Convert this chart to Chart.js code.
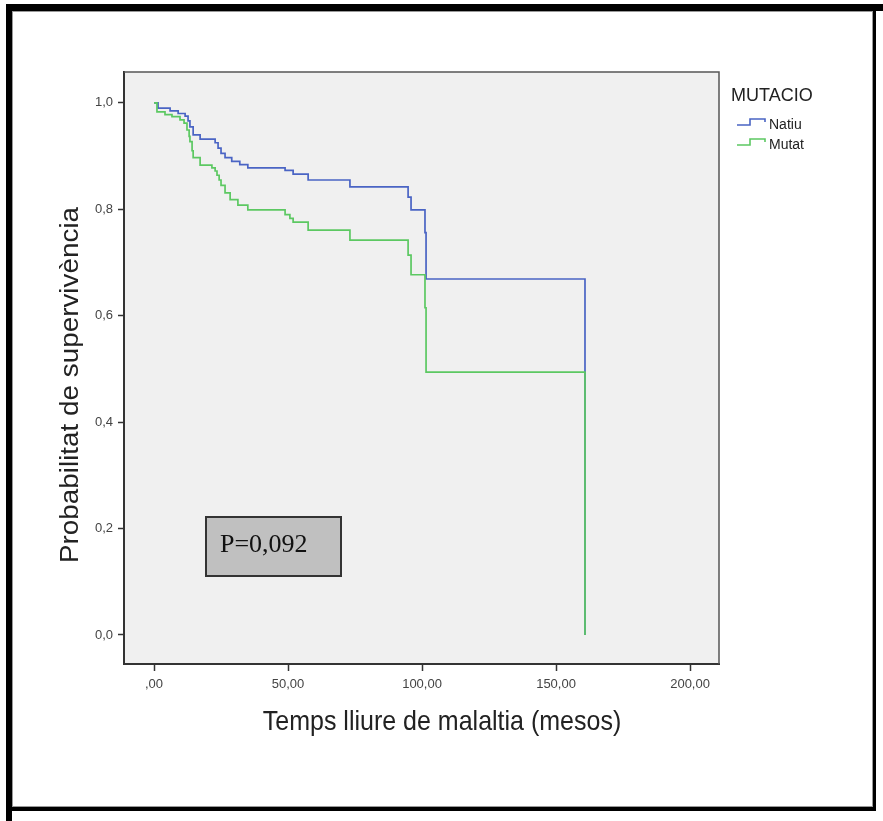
<!DOCTYPE html>
<html>
<head>
<meta charset="utf-8">
<title>Supervivencia lliure de malaltia</title>
<script src="https://cdn.jsdelivr.net/npm/chart.js@4/dist/chart.umd.min.js"></script>
<style>
  html, body { margin: 0; padding: 0; background: #fff; }
  #wrap { width: 883px; height: 821px; }
</style>
</head>
<body>
<div id="wrap"><canvas id="km" width="883" height="821"></canvas></div>
<script>
// Kaplan-Meier: temps (mesos) i probabilitat acumulada de supervivencia
var natiuTemps = [0, 1.5, 6, 9, 11.6, 12.7, 13.4, 14.6, 17.2, 22.8, 23.9, 25, 26.5, 29, 32, 35, 48.9, 51.9, 57.5, 73.1, 94.8, 95.9, 101.1, 101.5, 160.8];
var natiuSurv  = [1.0, 0.99, 0.985, 0.98, 0.975, 0.966, 0.955, 0.94, 0.932, 0.925, 0.915, 0.905, 0.897, 0.89, 0.884, 0.878, 0.873, 0.866, 0.855, 0.842, 0.823, 0.799, 0.756, 0.669, 0.0];

var mutatTemps = [0, 1.1, 4.1, 6.7, 9.7, 11.2, 12.3, 13.1, 13.4, 14.2, 14.6, 17.2, 21.6, 22.8, 23.5, 24.3, 25, 26.5, 28.4, 31.3, 35, 48.9, 50.7, 51.9, 57.5, 73.1, 94.8, 95.9, 101.1, 101.5, 160.8];
var mutatSurv  = [1.0, 0.983, 0.978, 0.974, 0.968, 0.962, 0.949, 0.937, 0.927, 0.91, 0.897, 0.883, 0.878, 0.872, 0.864, 0.855, 0.845, 0.831, 0.818, 0.808, 0.799, 0.79, 0.783, 0.776, 0.761, 0.742, 0.714, 0.677, 0.615, 0.494, 0.0];

var xTicks = [0, 50, 100, 150, 200];
var yTicks = [0, 0.2, 0.4, 0.6, 0.8, 1.0];

var grups = ['Natiu', 'Mutat'];
var colors = ['#4a64c4', '#5cc862'];
var pValue = 'P=0,092';

function toPoints(t, s) {
  return t.map(function (v, i) { return { x: v, y: s[i] }; });
}
function coma(v, d) {
  var s = v.toFixed(d).replace('.', ',');
  if (s.indexOf('0,') === 0) s = s.substring(1);
  return s;
}

// fons, marc i textos
var decor = {
  id: 'decor',
  beforeDraw: function (chart) {
    var c = chart.ctx, a = chart.chartArea;
    c.save();
    c.fillStyle = '#fff';
    c.fillRect(0, 0, chart.width, chart.height);
    c.fillStyle = '#f0f0f0';
    c.fillRect(a.left, a.top, a.right - a.left, a.bottom - a.top);
    c.restore();
  },
  afterDraw: function (chart) {
    var c = chart.ctx, a = chart.chartArea;
    c.save();
    // top + right edges of plot box
    c.strokeStyle = '#555';
    c.lineWidth = 1.5;
    c.beginPath();
    c.moveTo(a.left, a.top); c.lineTo(a.right, a.top); c.lineTo(a.right, a.bottom);
    c.stroke();

    // titols dels eixos (the original is a bit stretched vertically)
    c.fillStyle = '#222';
    c.font = '25px "Liberation Sans", Arial, sans-serif';
    c.textAlign = 'center';
    c.textBaseline = 'middle';
    c.save();
    c.translate(442, 722);
    c.scale(1, 1.12);
    c.fillText('Temps lliure de malaltia (mesos)', 0, 0, 368);
    c.restore();
    c.save();
    c.translate(71, 385);
    c.rotate(-Math.PI / 2);
    c.scale(1.12, 1);
    c.fillText('Probabilitat de supervivència', 0, 0, 318);
    c.restore();

    // llegenda
    c.textAlign = 'left';
    c.font = '18px "Liberation Sans", Arial, sans-serif';
    c.fillText('MUTACIO', 731, 96);
    c.font = '14px "Liberation Sans", Arial, sans-serif';
    var ly = [125, 145];
    for (var i = 0; i < grups.length; i++) {
      var y = ly[i];
      c.strokeStyle = colors[i];
      c.lineWidth = 1.6;
      c.beginPath();
      c.moveTo(737, y); c.lineTo(750, y); c.lineTo(750, y - 6);
      c.lineTo(765, y - 6); c.lineTo(765, y - 3);
      c.stroke();
      c.fillStyle = '#222';
      c.fillText(grups[i], 769, y);
    }

    // caixa del valor p
    c.fillStyle = '#c0c0c0';
    c.fillRect(206, 517, 135, 59);
    c.strokeStyle = '#333';
    c.lineWidth = 2;
    c.strokeRect(206, 517, 135, 59);
    c.fillStyle = '#111';
    c.font = '26px "Liberation Serif", "Times New Roman", serif';
    c.fillText(pValue, 220, 545);

    // marc exterior
    c.fillStyle = '#000';
    c.fillRect(6, 4, 877, 7);
    c.fillRect(6, 4, 6, 817);
    c.fillRect(873, 11, 3, 800);
    c.fillRect(6, 807, 870, 4);
    c.fillStyle = '#999';
    c.fillRect(12, 11, 861, 1);
    c.fillRect(12, 11, 1, 796);
    c.fillRect(872, 12, 1, 795);
    c.fillRect(12, 806, 861, 1);
    c.restore();
  }
};

new Chart(document.getElementById('km'), {
  type: 'line',
  data: {
    datasets: [
      { label: grups[0], data: toPoints(natiuTemps, natiuSurv), borderColor: colors[0], borderWidth: 1.7, stepped: 'before', pointRadius: 0, fill: false, order: 1 },
      { label: grups[1], data: toPoints(mutatTemps, mutatSurv), borderColor: colors[1], borderWidth: 1.7, stepped: 'before', pointRadius: 0, fill: false, order: 0 }
    ]
  },
  options: {
    responsive: false,
    animation: false,
    devicePixelRatio: 1,
    layout: { padding: { top: 72, right: 164, bottom: 0, left: 0 } },
    plugins: { legend: { display: false }, tooltip: { enabled: false } },
    scales: {
      x: {
        type: 'linear',
        min: -11.2,
        max: 210.8,
        afterFit: function (s) { s.height = 157; },
        afterBuildTicks: function (s) { s.ticks = xTicks.map(function (v) { return { value: v }; }); },
        grid: { drawOnChartArea: false, drawTicks: true, tickLength: 7, color: '#333', tickWidth: 1.5 },
        border: { display: true, color: '#333', width: 2 },
        ticks: {
          padding: 6,
          color: '#444',
          font: { size: 13, family: '"Liberation Sans", Arial, sans-serif' },
          maxRotation: 0,
          callback: function (v) { return coma(v, 2); }
        }
      },
      y: {
        type: 'linear',
        min: -0.0545,
        max: 1.058,
        afterFit: function (s) { s.width = 124; },
        afterBuildTicks: function (s) { s.ticks = yTicks.map(function (v) { return { value: v }; }); },
        grid: { drawOnChartArea: false, drawTicks: true, tickLength: 6, color: '#333', tickWidth: 1.5 },
        border: { display: true, color: '#333', width: 2 },
        ticks: {
          padding: 5,
          color: '#444',
          font: { size: 13, family: '"Liberation Sans", Arial, sans-serif' },
          callback: function (v) { return v.toFixed(1).replace('.', ','); }
        }
      }
    }
  },
  plugins: [decor]
});
</script>
</body>
</html>
